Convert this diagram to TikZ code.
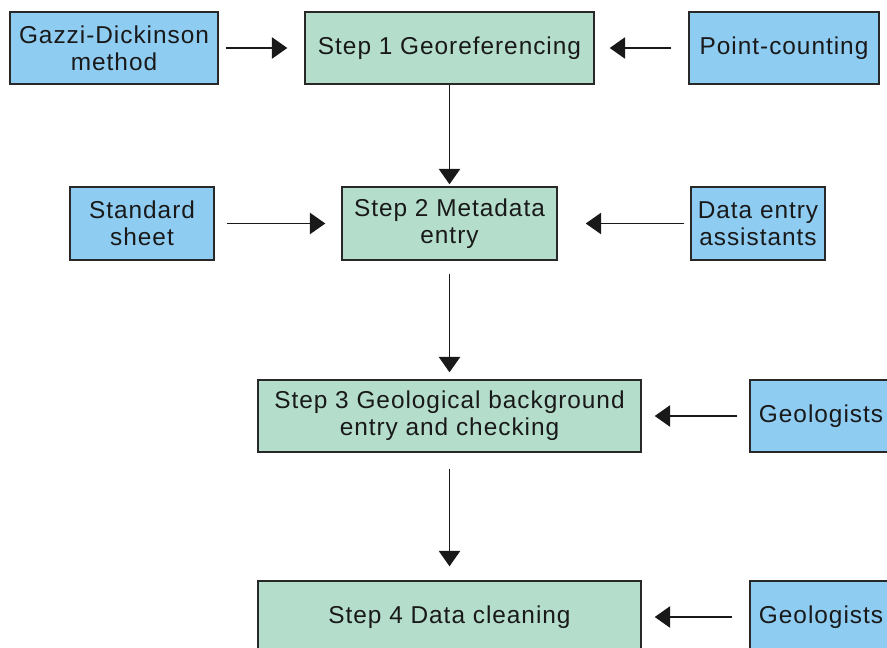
\documentclass[tikz,border=0pt]{standalone}
\usepackage{fontspec}
\setmainfont[LetterSpace=4]{Liberation Sans}
\usetikzlibrary{arrows.meta}
\definecolor{boxblue}{RGB}{143,204,242}
\definecolor{boxgreen}{RGB}{180,221,204}
\definecolor{edge}{RGB}{40,40,40}
\definecolor{txt}{RGB}{25,25,25}
\tikzset{
  basebox/.style={draw=edge, line width=1.1pt, inner sep=0pt, align=center,
    text=txt, font=\fontsize{18.3pt}{20.5pt}\selectfont},
  bluebox/.style={basebox, fill=boxblue},
  greenbox/.style={basebox, fill=boxgreen},
  conn/.style={draw=black!90, line width=0.85pt,
    -{Triangle[length=11.5pt,width=16pt]}},
}
\begin{document}
\begin{tikzpicture}[x=0.75pt,y=-0.75pt]
\clip (0,0) rectangle (887,648);
\fill[white] (0,0) rectangle (887,648);
% row 1
\node[bluebox, minimum width=156pt, minimum height=54pt] (gazzi) at (114,48) {Gazzi-Dickinson\\method};
\node[greenbox, minimum width=216.75pt, minimum height=54pt] (step1) at (449.5,48) {Step 1 Georeferencing};
\node[bluebox, minimum width=142.5pt, minimum height=54pt] (point) at (784,48) {Point-counting};
% row 2
\node[greenbox, minimum width=161.25pt, minimum height=54.75pt] (step2) at (449.5,223.5) {Step 2 Metadata\\entry};
\node[bluebox, minimum width=108pt, minimum height=54.75pt] (standard) at (142,223.5) {Standard\\sheet};
\node[bluebox, minimum width=100.5pt, minimum height=54.75pt] (dea) at (758,223.5) {Data entry\\assistants};
% row 3
\node[greenbox, minimum width=287.25pt, minimum height=54pt] (step3) at (449.5,416) {Step 3 Geological background\\entry and checking};
\node[bluebox, minimum width=106.5pt, minimum height=54pt] (geo1) at (821,416) {Geologists};
% row 4
\node[greenbox, minimum width=287.25pt, minimum height=54pt] (step4) at (449.5,617) {Step 4 Data cleaning};
\node[bluebox, minimum width=106.5pt, minimum height=54pt] (geo2) at (821,617) {Geologists};
% connectors
\draw[conn, shorten <=5.25pt, shorten >=12.75pt] (gazzi) -- (step1);
\draw[conn, shorten <=12.75pt, shorten >=11.25pt] (point) -- (step1);
\draw[conn, shorten <=0pt, shorten >=1.5pt] (step1) -- (step2);
\draw[conn, shorten <=9pt, shorten >=12pt] (standard) -- (step2);
\draw[conn, shorten <=4.5pt, shorten >=21pt] (dea) -- (step2);
\draw[conn, shorten <=9.75pt, shorten >=5.25pt] (step2) -- (step3);
\draw[conn, shorten <=9pt, shorten >=9.75pt] (geo1) -- (step3);
\draw[conn, shorten <=12pt, shorten >=10.5pt] (step3) -- (step4);
\draw[conn, shorten <=12.75pt, shorten >=9.75pt] (geo2) -- (step4);
\end{tikzpicture}
\end{document}
